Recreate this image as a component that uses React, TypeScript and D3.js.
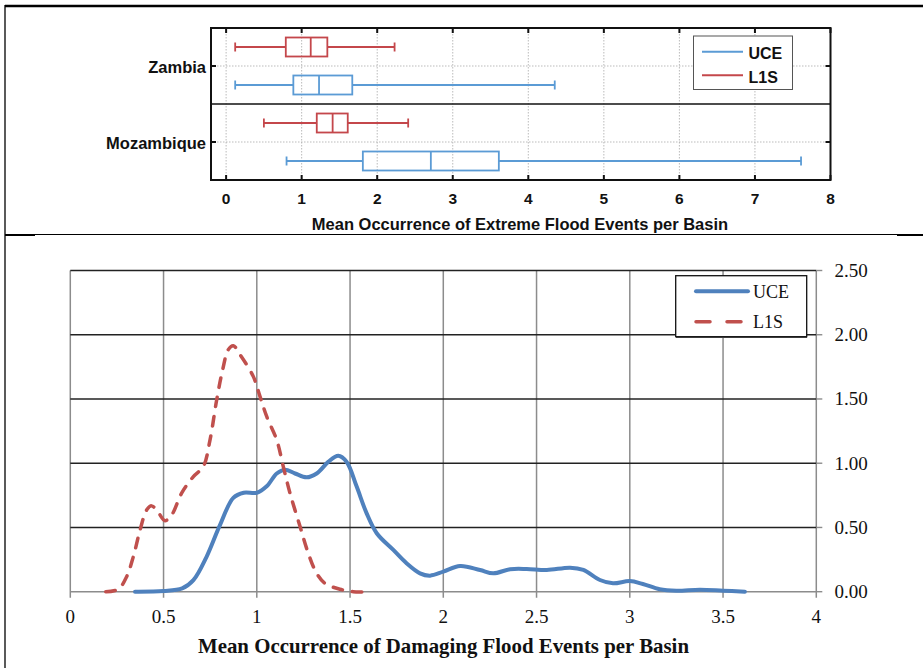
import React from "react";
import * as d3 from "d3";

// --- top panel: box plots ---
const countries = ["Zambia", "Mozambique"];
const methods = ["L1S", "UCE"];
const boxStats = [
  { country: "Zambia", method: "L1S", lo: 0.12, q1: 0.79, med: 1.12, q3: 1.34, hi: 2.23 },
  { country: "Zambia", method: "UCE", lo: 0.12, q1: 0.89, med: 1.23, q3: 1.67, hi: 4.35 },
  { country: "Mozambique", method: "L1S", lo: 0.5, q1: 1.2, med: 1.41, q3: 1.61, hi: 2.41 },
  { country: "Mozambique", method: "UCE", lo: 0.8, q1: 1.81, med: 2.71, q3: 3.61, hi: 7.61 },
];
const topTicks = [0, 1, 2, 3, 4, 5, 6, 7, 8];

// --- bottom panel: density curves ---
const uceX = [0.347, 0.5, 0.6, 0.66, 0.73, 0.8, 0.874, 0.93, 1.0, 1.053, 1.107, 1.151, 1.205, 1.267, 1.321, 1.383, 1.437, 1.482, 1.535, 1.589, 1.643, 1.732, 1.804, 1.875, 1.929, 2.0, 2.09, 2.197, 2.268, 2.358, 2.447, 2.555, 2.68, 2.751, 2.84, 2.91, 3.0, 3.07, 3.16, 3.25, 3.376, 3.5, 3.617];
const uceY = [0, 0.005, 0.026, 0.09, 0.27, 0.51, 0.73, 0.77, 0.77, 0.82, 0.92, 0.95, 0.92, 0.89, 0.92, 1.01, 1.058, 1.01, 0.82, 0.61, 0.455, 0.325, 0.22, 0.143, 0.125, 0.156, 0.2, 0.169, 0.143, 0.175, 0.177, 0.169, 0.187, 0.169, 0.091, 0.065, 0.083, 0.06, 0.019, 0.008, 0.016, 0.008, 0];
const l1sX = [0.19, 0.257, 0.302, 0.338, 0.374, 0.41, 0.436, 0.472, 0.508, 0.544, 0.597, 0.66, 0.713, 0.749, 0.785, 0.817, 0.847, 0.874, 0.91, 0.981, 1.017, 1.053, 1.107, 1.142, 1.178, 1.232, 1.276, 1.321, 1.366, 1.446, 1.517, 1.607];
const l1sY = [0, 0.019, 0.117, 0.273, 0.48, 0.637, 0.668, 0.616, 0.553, 0.598, 0.767, 0.896, 0.974, 1.18, 1.494, 1.728, 1.884, 1.915, 1.845, 1.676, 1.52, 1.364, 1.18, 0.974, 0.767, 0.507, 0.299, 0.143, 0.065, 0.019, 0, 0];
const botXTicks = [0, 0.5, 1, 1.5, 2, 2.5, 3, 3.5, 4];
const botYTicks = [0, 0.5, 1, 1.5, 2, 2.5];

const topBlue = "#5b9bd5";
const topRed = "#c4474b";
const botBlue = "#4f81bd";
const botRed = "#c0504d";
const sans = "'Liberation Sans', Arial, sans-serif";
const serif = "'Liberation Serif', 'DejaVu Serif', serif";

function TopChart() {
  const x = d3.scaleLinear().domain([-0.2, 8]).range([211, 830.5]);
  const yCat = d3.scaleBand().domain(countries).range([28, 180]);
  const ySub = d3.scalePoint().domain(methods).range([0, yCat.bandwidth()]).padding(0.5);
  const boxH = 19;
  const capH = 9;
  return (
    <g>
      {/* dotted grid */}
      {topTicks.slice(0, -1).map(t => (
        <line key={"gv" + t} x1={x(t)} x2={x(t)} y1={28} y2={180} stroke="#aaa" strokeWidth={0.8} strokeDasharray="1.5 1.5" />
      ))}
      {countries.map(c => (
        <line key={"gh" + c} x1={211} x2={830.5} y1={yCat(c)! + yCat.bandwidth() / 2} y2={yCat(c)! + yCat.bandwidth() / 2} stroke="#aaa" strokeWidth={0.8} strokeDasharray="1.5 1.5" />
      ))}
      {/* divider */}
      <line x1={211} x2={830.5} y1={yCat("Mozambique")} y2={yCat("Mozambique")} stroke="#111" strokeWidth={1.6} />
      {/* boxes */}
      {boxStats.map(b => {
        const cy = yCat(b.country)! + ySub(b.method)!;
        const col = b.method === "UCE" ? topBlue : topRed;
        return (
          <g key={b.country + b.method} stroke={col} strokeWidth={1.8} fill="none">
            <line x1={x(b.lo)} x2={x(b.q1)} y1={cy} y2={cy} />
            <line x1={x(b.q3)} x2={x(b.hi)} y1={cy} y2={cy} />
            <line x1={x(b.lo)} x2={x(b.lo)} y1={cy - capH / 2} y2={cy + capH / 2} />
            <line x1={x(b.hi)} x2={x(b.hi)} y1={cy - capH / 2} y2={cy + capH / 2} />
            <rect x={x(b.q1)} y={cy - boxH / 2} width={x(b.q3) - x(b.q1)} height={boxH} />
            <line x1={x(b.med)} x2={x(b.med)} y1={cy - boxH / 2} y2={cy + boxH / 2} />
          </g>
        );
      })}
      {/* frame */}
      <rect x={211} y={28} width={830.5 - 211} height={152} fill="none" stroke="#111" strokeWidth={2} />
      {topTicks.map(t => (
        <g key={"t" + t}>
          <line x1={x(t)} x2={x(t)} y1={28} y2={33} stroke="#111" strokeWidth={2} />
          <line x1={x(t)} x2={x(t)} y1={180} y2={175} stroke="#111" strokeWidth={2} />
          <text x={x(t)} y={204} textAnchor="middle" fontFamily={sans} fontWeight="bold" fontSize={15.5} fill="#111">{t}</text>
        </g>
      ))}
      {countries.map(c => {
        const cy = yCat(c)! + yCat.bandwidth() / 2;
        return (
          <g key={"c" + c}>
            <line x1={211} x2={216} y1={cy} y2={cy} stroke="#111" strokeWidth={2} />
            <line x1={830.5} x2={825.5} y1={cy} y2={cy} stroke="#111" strokeWidth={2} />
            <text x={206} y={cy + 7} textAnchor="end" fontFamily={sans} fontWeight="bold" fontSize={16.5} fill="#111">{c}</text>
          </g>
        );
      })}
      <text x={520} y={230} textAnchor="middle" fontFamily={sans} fontWeight="bold" fontSize={16.5} fill="#111">
        Mean Occurrence of Extreme Flood Events per Basin
      </text>
      {/* legend */}
      <rect x={693.5} y={36} width={99} height={53.5} fill="#fff" stroke="#555" strokeWidth={1} />
      {["UCE", "L1S"].map((m, i) => (
        <g key={"lg" + m}>
          <line x1={702} x2={743} y1={51.7 + i * 23.5} y2={51.7 + i * 23.5} stroke={m === "UCE" ? topBlue : topRed} strokeWidth={2} />
          <text x={748.5} y={59 + i * 24} fontFamily={sans} fontWeight="bold" fontSize={16} fill="#111">{m}</text>
        </g>
      ))}
    </g>
  );
}

function BottomChart() {
  const x = d3.scaleLinear().domain([0, 4]).range([70.3, 816.3]);
  const y = d3.scaleLinear().domain([0, 2.5]).range([591.7, 270.5]);
  const line = d3.line<[number, number]>().x(d => x(d[0])).y(d => y(d[1])).curve(d3.curveCatmullRom.alpha(0.5));
  const uce = uceX.map((v, i) => [v, uceY[i]] as [number, number]);
  const l1s = l1sX.map((v, i) => [v, l1sY[i]] as [number, number]);
  const dash = "9.5 10";
  return (
    <g>
      {botXTicks.map(t => (
        <g key={"bx" + t}>
          <line x1={x(t)} x2={x(t)} y1={y(2.5)} y2={y(0) + 6} stroke="#8c8c8c" strokeWidth={1.5} />
          <text x={x(t)} y={623} textAnchor="middle" fontFamily={serif} fontSize={19} fill="#111">{t}</text>
        </g>
      ))}
      {botYTicks.map(t => (
        <g key={"by" + t}>
          <line x1={x(0)} x2={x(4)} y1={y(t)} y2={y(t)} stroke={t === 0 ? "#8c8c8c" : "#222"} strokeWidth={1.4} />
          <line x1={x(4)} x2={x(4) + 6} y1={y(t)} y2={y(t)} stroke="#8c8c8c" strokeWidth={1.4} />
          <text x={834.5} y={y(t) + 6.5} fontFamily={serif} fontSize={19} fill="#111">{t.toFixed(2)}</text>
        </g>
      ))}
      <path d={line(uce)!} fill="none" stroke={botBlue} strokeWidth={4} strokeLinecap="round" />
      <path d={line(l1s)!} fill="none" stroke={botRed} strokeWidth={3.5} strokeLinecap="round" strokeDasharray={dash} />
      <text x={443.5} y={653} textAnchor="middle" fontFamily={serif} fontWeight="bold" fontSize={21} textLength={491} lengthAdjust="spacingAndGlyphs" fill="#111">
        Mean Occurrence of Damaging Flood Events per Basin
      </text>
      {/* legend */}
      <rect x={676} y={277} width={131} height={61} fill="#555" />
      <rect x={675.7} y={275.7} width={131} height={61} fill="#fff" stroke="#111" strokeWidth={1.3} />
      <line x1={696} x2={748} y1={291.3} y2={291.3} stroke={botBlue} strokeWidth={4} strokeLinecap="round" />
      <text x={753} y={297.5} fontFamily={serif} fontSize={18} fill="#111">UCE</text>
      <line x1={696} x2={748} y1={321.7} y2={321.7} stroke={botRed} strokeWidth={3.5} strokeLinecap="round" strokeDasharray="14 17" />
      <text x={753} y={328} fontFamily={serif} fontSize={18} fill="#111">L1S</text>
    </g>
  );
}

export default function App() {
  return (
    <svg width={923} height={668} style={{ position: "absolute", left: 0, top: 0, background: "#fff" }}>
      <rect width={923} height={668} fill="#fff" />
      {/* table borders */}
      <line x1={5} x2={923} y1={6} y2={6} stroke="#000" strokeWidth={2.5} />
      <line x1={5} x2={5} y1={5} y2={668} stroke="#000" strokeWidth={1.3} />
      <line x1={5} x2={923} y1={234.5} y2={234.5} stroke="#000" strokeWidth={1.2} />
      <line x1={5} x2={35} y1={235} y2={235} stroke="#000" strokeWidth={2} />
      <line x1={897} x2={923} y1={235} y2={235} stroke="#000" strokeWidth={2} />
      <TopChart />
      <BottomChart />
    </svg>
  );
}
